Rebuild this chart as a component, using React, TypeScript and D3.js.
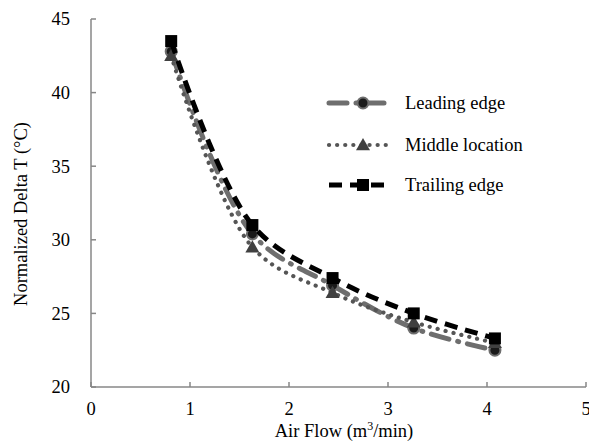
import * as d3 from 'd3';
import React from 'react';

// Data
const airFlow = [0.81, 1.63, 2.44, 3.26, 4.08];
const leadingEdge = [42.8, 30.4, 26.9, 24.0, 22.5];
const middleLocation = [42.5, 29.5, 26.4, 24.4, 23.0];
const trailingEdge = [43.5, 31.0, 27.4, 25.0, 23.3];
const xTicks = [0, 1, 2, 3, 4, 5];
const yTicks = [20, 25, 30, 35, 40, 45];

const seriesNames = ["Leading edge", "Middle location", "Trailing edge"];
const seriesValues = [leadingEdge, middleLocation, trailingEdge];

const W = 589;
const H = 442;
const margin = { left: 91, top: 19, right: 3, bottom: 55 };
const font = "'Liberation Serif', Tinos, 'Times New Roman', Times, 'Noto Serif', 'DejaVu Serif', FreeSerif, serif";
const fs = 18.5;

const styles = [
    { color: "#6e6e6e", width: 5, dash: "18 9 1 9", cap: "round", marker: "circle" },
    { color: "#555555", width: 4.2, dash: "0.1 8", cap: "round", marker: "triangle" },
    { color: "#000000", width: 5, dash: "13 8", cap: "butt", marker: "square" },
];

function Marker({ kind, x, y }: { kind: string; x: number; y: number }) {
    if (kind === "circle") {
        return <circle cx={x} cy={y} r={5.5} fill="#1a1a1a" stroke="#6e6e6e" strokeWidth={2} />;
    }
    if (kind === "triangle") {
        const s = 7;
        return <path d={`M${x},${y - s}L${x + s},${y + s * 0.75}L${x - s},${y + s * 0.75}Z`} fill="#404040" />;
    }
    return <rect x={x - 6} y={y - 6} width={12} height={12} fill="#000" />;
}

export default function App() {
    const x = d3.scaleLinear().domain([0, 5]).range([margin.left, W - margin.right]);
    const y = d3.scaleLinear().domain([20, 45]).range([H - margin.bottom, margin.top]);

    const line = d3.line<number>()
        .x((d, i) => x(airFlow[i]))
        .y(d => y(d))
        .curve(d3.curveCatmullRom.alpha(0.5));

    const axisColor = "#878787";
    const legendRows = [103, 145, 185];

    return (
        <svg width={W} height={H} style={{ position: "absolute", left: 0, top: 0, background: "#fff" }}>
            <g fontFamily={font} fontSize={fs} fill="#000">
                {/* axes */}
                <line x1={x(0)} x2={x(5)} y1={y(20)} y2={y(20)} stroke={axisColor} strokeWidth={1.5} />
                <line x1={x(0)} x2={x(0)} y1={y(20)} y2={y(45)} stroke={axisColor} strokeWidth={1.5} />
                {xTicks.map(t => (
                    <g key={"x" + t}>
                        <line x1={x(t)} x2={x(t)} y1={y(20)} y2={y(20) - 5} stroke={axisColor} strokeWidth={1.5} />
                        <text x={x(t)} y={y(20) + 28} textAnchor="middle">{t}</text>
                    </g>
                ))}
                {yTicks.map(t => (
                    <g key={"y" + t}>
                        <line x1={x(0)} x2={x(0) + 5} y1={y(t)} y2={y(t)} stroke={axisColor} strokeWidth={1.5} />
                        <text x={70} y={y(t)} dy="0.35em" textAnchor="end">{t}</text>
                    </g>
                ))}

                {/* axis titles */}
                <text x={344} y={437} textAnchor="middle">
                    Air Flow (m<tspan fontSize={12} dy={-7}>3</tspan><tspan dy={7}>/min)</tspan>
                </text>
                <text transform="translate(27,214) rotate(-90)" textAnchor="middle">
                    Normalized Delta T (°C)
                </text>

                {/* series */}
                {seriesValues.map((vals, si) => {
                    const s = styles[si];
                    return (
                        <g key={seriesNames[si]}>
                            <path d={line(vals) || ""} fill="none" stroke={s.color} strokeWidth={s.width}
                                strokeDasharray={s.dash} strokeLinecap={s.cap as any} />
                            {vals.map((v, i) => <Marker key={i} kind={s.marker} x={x(airFlow[i])} y={y(v)} />)}
                        </g>
                    );
                })}

                {/* legend */}
                {seriesNames.map((name, si) => {
                    const s = styles[si];
                    const ly = legendRows[si];
                    return (
                        <g key={"leg" + name}>
                            <line x1={329} x2={392} y1={ly} y2={ly} stroke={s.color} strokeWidth={s.width}
                                strokeDasharray={s.dash} strokeLinecap={s.cap as any} />
                            <Marker kind={s.marker} x={363} y={ly} />
                            <text x={405} y={ly} dy="0.35em">{name}</text>
                        </g>
                    );
                })}
            </g>
        </svg>
    );
}
